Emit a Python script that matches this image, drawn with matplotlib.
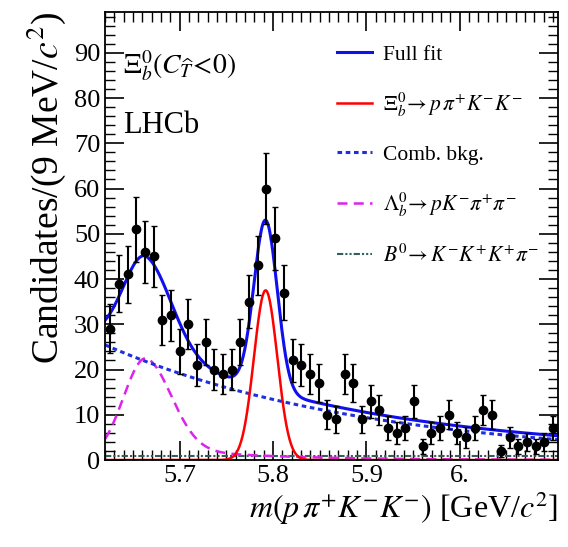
import numpy as np
import matplotlib
matplotlib.use("Agg")
import matplotlib.pyplot as plt
plt.rcParams['font.family'] = ['Liberation Serif', 'DejaVu Serif']
plt.rcParams['mathtext.fontset'] = 'stix'

x0, bw = 5.6255, 0.0093
counts = [29,39,41,51,46,45,31,32,24,30,21,26,20,19,20,26,35,43,60,49,37,22,21,19,17,10,9,
          19,17,9,13,11,7,6,7,13,3,6,7,10,6,5,7,11,10,2,5,3,4,3,4,7,6]
centers = x0 + bw*np.arange(len(counts))

# fit component parameters
sig_mu, sig_s, sig_A = 5.792, 0.0125, 37.5
cmb_A, cmb_k, cmb_x0 = 25.0, 3.57, 5.625
lb_mu, lb_sl, lb_sr, lb_A, lb_tA, lb_tk = 5.663, 0.025, 0.028, 19.5, 3.0, 9.0
b0_A = 0.8

x = np.linspace(5.62, 6.105, 600)
sig = sig_A*np.exp(-0.5*((x-sig_mu)/sig_s)**2)
cmb = cmb_A*np.exp(-cmb_k*(x-cmb_x0))
s = np.where(x < lb_mu, lb_sl, lb_sr)
lb = lb_A*np.exp(-0.5*((x-lb_mu)/s)**2) + lb_tA*np.exp(-lb_tk*np.abs(x-lb_mu))*np.where(x < lb_mu, np.exp(-0.5*((x-lb_mu)/0.02)**2), 1)
b0 = np.full_like(x, b0_A)
full = sig+cmb+lb+b0

fig = plt.figure(figsize=(5.68, 5.47), dpi=100)
ax = fig.add_axes([0.185, 0.159, 0.797, 0.819])
ax.plot(x, b0, color='#2f5f5f', ls=(0, (3, 1, 1, 1, 1, 1)), lw=1.5, label=r'$B^0\!\rightarrow K^{-}K^{+}K^{+}\pi^{-}$')
ax.plot(x, lb, color='#dd22ee', ls=(0, (4, 2.5)), lw=1.8, label=r'$\mathit{\Lambda}_b^0\!\rightarrow pK^{-}\pi^{+}\pi^{-}$')
ax.plot(x, cmb, color='#1f2fdd', ls=(0, (1.5, 1.2)), lw=2.2, label='Comb. bkg.')
ax.plot(x, sig, color='red', lw=1.8, label=r'$\mathit{\Xi}_b^0\!\rightarrow p\,\pi^{+}K^{-}K^{-}$')
ax.plot(x, full, color='#1010ee', lw=2.2, label='Full fit')
c = np.array(counts)
ax.errorbar(centers, c, yerr=np.sqrt(c), fmt='o', color='black', ms=6, elinewidth=1.5, capsize=2, zorder=5)

ax.set_xlim(5.62, 6.105)
ax.set_ylim(0, 99)
ax.set_xticks([5.7, 5.8, 5.9, 6.0])
ax.set_xticklabels(['5.7', '5.8', '5.9', '6.'])
ax.set_xticks(np.arange(5.62, 6.105, 0.01), minor=True)
ax.set_yticks(range(0, 100, 10))
ax.set_yticks(range(0, 100, 2), minor=True)
ax.tick_params(which='both', direction='in', top=True, right=True, labelsize=19)
ax.tick_params(which='major', length=14, width=1.2)
ax.tick_params(which='minor', length=7, width=1)
for sp in ax.spines.values():
    sp.set_linewidth(1.3)
ax.set_xlabel(r'$m(p\,\pi^{+}K^{-}K^{-})$ [GeV/$c^2$]', fontsize=23, loc='right', labelpad=2)
ax.set_ylabel(r'Candidates/(9 MeV/$c^2$)', fontsize=27, loc='top', labelpad=4)
ax.text(0.04, 0.92, r'$\mathit{\Xi}_b^0(C_{\widehat{T}}\!<\!0)$', transform=ax.transAxes, fontsize=20, va='top')
ax.text(0.04, 0.78, 'LHCb', transform=ax.transAxes, fontsize=22, va='top')
h, l = ax.get_legend_handles_labels()
ax.legend(h[::-1], l[::-1], loc='upper right', bbox_to_anchor=(1.0, 0.97), frameon=False, fontsize=15.5,
          labelspacing=1.2, handlelength=1.6, handletextpad=0.5)
fig.savefig('out.png', dpi=100)
